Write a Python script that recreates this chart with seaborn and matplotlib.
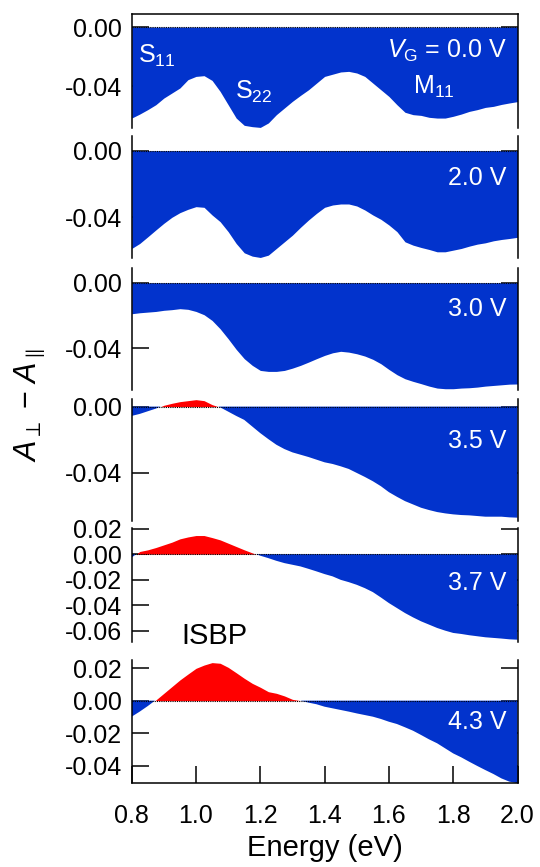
import numpy as np
import matplotlib
matplotlib.use("Agg")
import matplotlib.pyplot as plt
import seaborn as sns
from matplotlib.ticker import FormatStrFormatter, FixedLocator

# photon energy (eV)
energy = [0.800, 0.825, 0.850, 0.875, 0.900, 0.925, 0.950, 0.975, 1.000, 1.025,
          1.050, 1.075, 1.100, 1.125, 1.150, 1.175, 1.200, 1.225, 1.250, 1.275,
          1.300, 1.325, 1.350, 1.375, 1.400, 1.425, 1.450, 1.475, 1.500, 1.525,
          1.550, 1.575, 1.600, 1.625, 1.650, 1.675, 1.700, 1.725, 1.750, 1.775,
          1.800, 1.825, 1.850, 1.875, 1.900, 1.925, 1.950, 1.975, 2.000]

# A_perp - A_par for each gate voltage
vg_00 = [-0.0614, -0.0587, -0.0557, -0.0524, -0.0479, -0.0445, -0.0411, -0.0355, -0.0333, -0.0328,
         -0.0360, -0.0434, -0.0524, -0.0614, -0.0663, -0.0672, -0.0677, -0.0647, -0.0591, -0.0546,
         -0.0501, -0.0461, -0.0423, -0.0378, -0.0333, -0.0318, -0.0303, -0.0299, -0.0310, -0.0333,
         -0.0378, -0.0423, -0.0468, -0.0524, -0.0575, -0.0591, -0.0596, -0.0609, -0.0614, -0.0614,
         -0.0602, -0.0587, -0.0569, -0.0557, -0.0542, -0.0535, -0.0522, -0.0512, -0.0503]
vg_20 = [-0.0587, -0.0557, -0.0517, -0.0476, -0.0436, -0.0400, -0.0372, -0.0352, -0.0336, -0.0340,
         -0.0386, -0.0426, -0.0486, -0.0557, -0.0613, -0.0633, -0.0641, -0.0627, -0.0587, -0.0547,
         -0.0507, -0.0460, -0.0416, -0.0376, -0.0340, -0.0326, -0.0320, -0.0320, -0.0332, -0.0356,
         -0.0386, -0.0412, -0.0446, -0.0486, -0.0547, -0.0567, -0.0581, -0.0593, -0.0607, -0.0607,
         -0.0597, -0.0587, -0.0573, -0.0561, -0.0553, -0.0541, -0.0533, -0.0527, -0.0520]
vg_30 = [-0.0190, -0.0184, -0.0180, -0.0176, -0.0169, -0.0165, -0.0159, -0.0163, -0.0176, -0.0196,
         -0.0231, -0.0282, -0.0343, -0.0408, -0.0465, -0.0506, -0.0537, -0.0543, -0.0543, -0.0537,
         -0.0523, -0.0506, -0.0486, -0.0465, -0.0445, -0.0429, -0.0420, -0.0425, -0.0435, -0.0449,
         -0.0469, -0.0496, -0.0531, -0.0563, -0.0588, -0.0604, -0.0618, -0.0633, -0.0645, -0.0649,
         -0.0649, -0.0645, -0.0643, -0.0639, -0.0633, -0.0629, -0.0625, -0.0621, -0.0620]
vg_35 = [-0.0056, -0.0044, -0.0028, -0.0012, 0.0008, 0.0020, 0.0030, 0.0036, 0.0042, 0.0036,
         0.0012, -0.0004, -0.0030, -0.0056, -0.0080, -0.0120, -0.0160, -0.0196, -0.0230, -0.0256,
         -0.0276, -0.0290, -0.0304, -0.0320, -0.0336, -0.0346, -0.0360, -0.0376, -0.0400, -0.0424,
         -0.0450, -0.0480, -0.0516, -0.0544, -0.0570, -0.0590, -0.0610, -0.0624, -0.0636, -0.0644,
         -0.0650, -0.0654, -0.0656, -0.0660, -0.0664, -0.0664, -0.0664, -0.0668, -0.0670]
vg_37 = [-0.0026, 0.0021, 0.0034, 0.0052, 0.0073, 0.0094, 0.0120, 0.0135, 0.0146, 0.0146,
         0.0130, 0.0112, 0.0086, 0.0060, 0.0034, 0.0010, -0.0012, -0.0031, -0.0052, -0.0070,
         -0.0083, -0.0096, -0.0115, -0.0135, -0.0156, -0.0174, -0.0201, -0.0219, -0.0240, -0.0266,
         -0.0297, -0.0339, -0.0383, -0.0422, -0.0461, -0.0495, -0.0526, -0.0552, -0.0578, -0.0599,
         -0.0617, -0.0625, -0.0635, -0.0643, -0.0651, -0.0656, -0.0661, -0.0667, -0.0670]
vg_43 = [-0.0098, -0.0067, -0.0033, 0.0004, 0.0045, 0.0086, 0.0127, 0.0163, 0.0198, 0.0218,
         0.0233, 0.0229, 0.0204, 0.0171, 0.0137, 0.0106, 0.0082, 0.0055, 0.0045, 0.0029,
         0.0008, 0.0000, -0.0012, -0.0022, -0.0037, -0.0047, -0.0057, -0.0067, -0.0078, -0.0088,
         -0.0098, -0.0112, -0.0129, -0.0143, -0.0163, -0.0184, -0.0210, -0.0237, -0.0261, -0.0292,
         -0.0323, -0.0347, -0.0374, -0.0400, -0.0425, -0.0449, -0.0476, -0.0496, -0.0505]

series = [vg_00, vg_20, vg_30, vg_35, vg_37, vg_43]
panel_labels = [r"$V_{\mathrm{G}}$ = 0.0 V", "2.0 V", "3.0 V", "3.5 V", "3.7 V", "4.3 V"]
label_y = [0.673, 0.654, 0.66, 0.653, 0.518, 0.50]
ylims = [(-0.0681, 0.0088), (-0.0646, 0.0088), (-0.0655, 0.0090),
         (-0.0690, 0.0049), (-0.0688, 0.0205), (-0.0506, 0.0249)]
yticks = [[0.0, -0.04], [0.0, -0.04], [0.0, -0.04], [0.0, -0.04],
          [0.02, 0.0, -0.02, -0.04, -0.06], [0.02, 0.0, -0.02, -0.04]]
xticks = [0.8, 1.0, 1.2, 1.4, 1.6, 1.8, 2.0]

BLUE = "#0233CC"
RED = "#FF0000"

sns.set_style("ticks")
plt.rcParams["font.family"] = ["Liberation Sans", "DejaVu Sans"]
plt.rcParams["mathtext.fontset"] = "custom"
plt.rcParams["mathtext.rm"] = "Liberation Sans"
plt.rcParams["mathtext.it"] = "Liberation Sans:italic"
plt.rcParams["axes.unicode_minus"] = False
plt.rcParams["axes.linewidth"] = 1.1
for key in ["axes.edgecolor", "xtick.color", "ytick.color", "text.color", "axes.labelcolor"]:
    plt.rcParams[key] = "black"

W, H = 540, 867
fig = plt.figure(figsize=(W / 100, H / 100), dpi=100)

# panel extents in pixels (top, bottom)
px_left, px_right = 131.7, 517.5
panels_px = [(14, 128), (136, 258.3), (268, 389.7), (398.5, 521), (528, 642), (660, 783.3)]

x = np.array(energy)
axes = []
for i, (top, bot) in enumerate(panels_px):
    ax = fig.add_axes([px_left / W, 1 - bot / H, (px_right - px_left) / W, (bot - top) / H])
    axes.append(ax)
    y = np.array(series[i])
    ax.fill_between(x, y, 0, where=y <= 0, interpolate=True, color=BLUE, lw=0, zorder=1)
    ax.fill_between(x, y, 0, where=y >= 0, interpolate=True, color=RED, lw=0, zorder=1)
    ax.axhline(0, color="black", lw=0.8, ls=(0, (1, 1)), zorder=3)
    ax.set_xlim(0.8, 2.0)
    ax.set_ylim(*ylims[i])
    ax.set_axisbelow(True)
    ax.yaxis.set_major_locator(FixedLocator(yticks[i]))
    ax.yaxis.set_major_formatter(FormatStrFormatter("%.2f"))
    ax.xaxis.set_major_locator(FixedLocator(xticks))
    if i == 5:
        ax.xaxis.set_major_formatter(FormatStrFormatter("%.1f"))
    else:
        ax.set_xticklabels([])
    ax.tick_params(axis="y", direction="in", length=12, width=1.1, left=True, right=True,
                   labelsize=18, pad=7)
    ax.tick_params(axis="x", direction="in", length=12, width=1.1, labelsize=18, pad=15,
                   top=(i == 0), bottom=(i == 5), labelbottom=(i == 5), labeltop=False)
    sns.despine(ax=ax, top=(i != 0), bottom=(i != 5), left=False, right=False)
    ax.text(0.972, label_y[i], panel_labels[i], transform=ax.transAxes, color="white",
            fontsize=18, ha="right", va="center")

axes[0].text(0.017, 0.63, r"S$_{11}$", transform=axes[0].transAxes, color="white",
             fontsize=18, ha="left", va="center")
axes[0].text(0.268, 0.32, r"S$_{22}$", transform=axes[0].transAxes, color="white",
             fontsize=18, ha="left", va="center")
axes[0].text(0.73, 0.357, r"M$_{11}$", transform=axes[0].transAxes, color="white",
             fontsize=18, ha="left", va="center")
axes[5].text(1.056, 0.0396, "ISBP", color="black", fontsize=21, ha="center", va="center")

axes[5].set_xlabel("Energy (eV)", fontsize=21, labelpad=4)
fig.text(30 / W, 1 - 405 / H, r"$A_{\perp}$ − $A_{\parallel}$", rotation=90,
         fontsize=22, ha="center", va="center")

fig.savefig("out.png", dpi=100)
